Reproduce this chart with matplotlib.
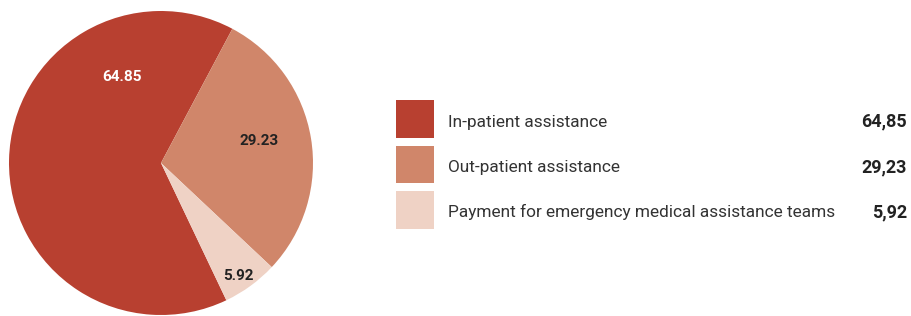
# Grafica de pastel con leyenda a la derecha
import numpy as np
import matplotlib.pyplot as plt
from matplotlib.patches import Rectangle

# datos
Categorias = [
    "In-patient assistance",
    "Out-patient assistance",
    "Payment for emergency medical assistance teams",
]
Valores = [64.85, 29.23, 5.92]
Etiquetas_pastel = ["64.85", "29.23", "5.92"]
Etiquetas_leyenda = ["64,85", "29,23", "5,92"]

# estilos
Colores = ["#B84030", "#D0866A", "#EFD2C5"]
Colores_texto = ["white", "#222222", "#222222"]
# posicion de etiquetas (angulo, radio)
Pos_etiquetas = [(114.6, 0.62), (12.8, 0.66), (-55.4, 0.90)]

plt.rcParams["font.family"] = ["Roboto", "DejaVu Sans"]

fig = plt.figure(figsize=(9.11, 3.16), dpi=100)

# pastel
ax = fig.add_axes([9 / 911, 1 / 316, 304 / 911, 304 / 316])
inicio = 62 + Valores[0] * 3.6
Cunas, _ = ax.pie(
    Valores,
    colors=Colores,
    startangle=inicio,
    counterclock=False,
    radius=1,
)
ax.set_xlim(-1, 1)
ax.set_ylim(-1, 1)
ax.set_aspect("equal")
ax.axis("off")

for (ang, r), txt, col in zip(Pos_etiquetas, Etiquetas_pastel, Colores_texto):
    a = np.deg2rad(ang)
    ax.text(
        r * np.cos(a), r * np.sin(a), txt,
        ha="center", va="center",
        fontsize=11, fontweight="bold", color=col,
    )

# leyenda
ax2 = fig.add_axes([0, 0, 1, 1])
ax2.set_xlim(0, 911)
ax2.set_ylim(316, 0)
ax2.axis("off")

for i, (cat, val, col) in enumerate(zip(Categorias, Etiquetas_leyenda, Colores)):
    y0 = 100 + i * 45.5
    ax2.add_patch(Rectangle((396, y0), 38, 37.5, color=col, lw=0))
    ax2.text(448, y0 + 26.5, cat, ha="left", va="baseline",
             fontsize=12.4, color="#333333")
    ax2.text(907, y0 + 26.5, val, ha="right", va="baseline",
             fontsize=13, fontweight="bold", color="#222222")

fig.savefig("out.png", dpi=100)
